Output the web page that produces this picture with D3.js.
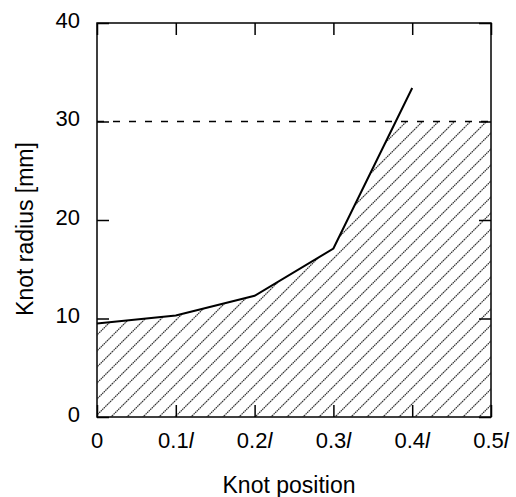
<!DOCTYPE html>
<html lang="en">
<head>
<meta charset="utf-8"/>
<title>Knot radius vs knot position</title>
<script src="https://cdn.jsdelivr.net/npm/d3@7"></script>
<style>
  body { margin: 0; background: #fff; }
  text { font-family: "Liberation Sans", Arial, Helvetica, sans-serif; fill: #000; }
</style>
</head>
<body>
<div id="chart"></div>
<script>
// measured knot radius along the stem
var positions = [0, 0.1, 0.2, 0.3, 0.4];
var radii = [9.5, 10.3, 12.3, 17.1, 33.4];
var limit = 30;            // dashed threshold
var xTicks = [0, 0.1, 0.2, 0.3, 0.4, 0.5];
var xTickLabels = ["0", "0.1", "0.2", "0.3", "0.4", "0.5"];
var yTicks = [0, 10, 20, 30, 40];

var W = 516, H = 497;
var pLeft = 97, pRight = 491, pTop = 23, pBottom = 417;

var x = d3.scaleLinear().domain([0, 0.5]).range([pLeft, pRight]);
var y = d3.scaleLinear().domain([0, 40]).range([pBottom, pTop]);

var svg = d3.select("#chart").append("svg")
  .attr("width", W)
  .attr("height", H);

var defs = svg.append("defs");

// diagonal hatching
var hatch = defs.append("pattern")
  .attr("id", "hatch")
  .attr("patternUnits", "userSpaceOnUse")
  .attr("width", 16)
  .attr("height", 16);
hatch.append("path")
  .attr("d", "M-4,4 L4,-4 M0,16 L16,0 M12,20 L20,12")
  .attr("stroke", "#333")
  .attr("stroke-width", 1.2)
  .attr("stroke-dasharray", "1.6,0.6");

// region under the curve (plus everything past the last knot)
var clip = defs.append("clipPath").attr("id", "under");
var pts = positions.map(function(p, i) { return [p, radii[i]]; });
clip.append("path")
  .attr("d", d3.area()
    .x(function(d) { return x(d[0]); })
    .y0(y(0))
    .y1(function(d) { return y(d[1]); })(pts));
clip.append("rect")
  .attr("x", x(positions[positions.length - 1]))
  .attr("y", y(40))
  .attr("width", x(0.5) - x(positions[positions.length - 1]))
  .attr("height", y(0) - y(40));

svg.append("rect")
  .attr("x", x(0))
  .attr("y", y(limit))
  .attr("width", x(0.5) - x(0))
  .attr("height", y(0) - y(limit))
  .attr("fill", "url(#hatch)")
  .attr("clip-path", "url(#under)");

// threshold line
svg.append("line")
  .attr("x1", x(0)).attr("x2", x(0.5))
  .attr("y1", y(limit)).attr("y2", y(limit))
  .attr("stroke", "#000")
  .attr("stroke-width", 1.5)
  .attr("stroke-dasharray", "7,9");

// data line
svg.append("path")
  .datum(pts)
  .attr("fill", "none")
  .attr("stroke", "#000")
  .attr("stroke-width", 2)
  .attr("d", d3.line()
    .x(function(d) { return x(d[0]); })
    .y(function(d) { return y(d[1]); }));

// axes with inward ticks on all four sides
var tk = 12;
function noDomain(g) { g.select(".domain").remove(); }
svg.append("g")
  .attr("transform", "translate(0," + pBottom + ")")
  .call(d3.axisBottom(x).tickValues(xTicks).tickSizeInner(-tk).tickSizeOuter(0).tickFormat(""))
  .call(noDomain);
svg.append("g")
  .attr("transform", "translate(0," + pTop + ")")
  .call(d3.axisTop(x).tickValues(xTicks).tickSizeInner(-tk).tickSizeOuter(0).tickFormat(""))
  .call(noDomain);
svg.append("g")
  .attr("transform", "translate(" + pLeft + ",0)")
  .call(d3.axisLeft(y).tickValues(yTicks).tickSizeInner(-tk).tickSizeOuter(0).tickFormat(""))
  .call(noDomain);
svg.append("g")
  .attr("transform", "translate(" + pRight + ",0)")
  .call(d3.axisRight(y).tickValues(yTicks).tickSizeInner(-tk).tickSizeOuter(0).tickFormat(""))
  .call(noDomain);
svg.selectAll(".tick line").attr("stroke", "#000").attr("stroke-width", 1.5);

// frame
svg.append("rect")
  .attr("x", pLeft).attr("y", pTop)
  .attr("width", pRight - pLeft).attr("height", pBottom - pTop)
  .attr("fill", "none")
  .attr("stroke", "#000")
  .attr("stroke-width", 1.5);

// tick labels
var xl = svg.append("g").attr("font-size", 22);
xTicks.forEach(function(t, i) {
  var txt = xl.append("text")
    .attr("x", x(t))
    .attr("y", 448)
    .attr("text-anchor", "middle");
  txt.append("tspan").text(xTickLabels[i]);
  if (t > 0) txt.append("tspan").attr("font-style", "italic").text("l");
});

svg.append("g").attr("font-size", 22)
  .selectAll("text").data(yTicks).enter().append("text")
  .attr("x", 80)
  .attr("y", function(d) { return y(d) - 3; })
  .attr("dy", "0.35em")
  .attr("text-anchor", "end")
  .text(function(d) { return d; });

// axis titles
svg.append("text")
  .attr("x", 289)
  .attr("y", 493)
  .attr("text-anchor", "middle")
  .attr("font-size", 23)
  .text("Knot position");

svg.append("text")
  .attr("transform", "translate(33,229) rotate(-90)")
  .attr("text-anchor", "middle")
  .attr("font-size", 23)
  .text("Knot radius [mm]");
</script>
</body>
</html>
